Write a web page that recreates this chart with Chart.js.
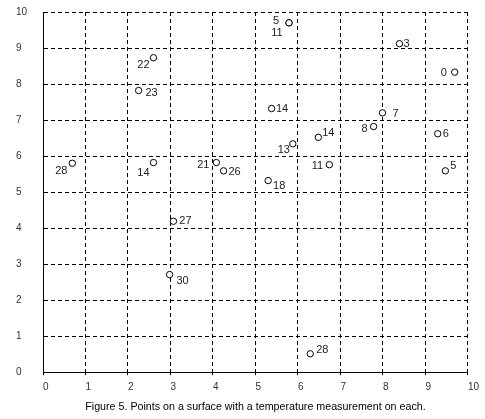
<!DOCTYPE html>
<html>
<head>
<meta charset="utf-8">
<script src="https://cdn.jsdelivr.net/npm/chart.js@4/dist/chart.umd.min.js"></script>
<style>
html,body{margin:0;padding:0;background:#fff;}
#wrap{width:485px;height:419px;position:relative;}
</style>
</head>
<body>
<div id="wrap"><canvas id="c" width="485" height="419"></canvas></div>
<script>
// Point locations on the surface and the temperature measured at each
const xValues = [2.60, 2.25, 0.69, 2.60, 4.08, 4.25, 5.79, 5.79, 8.39, 9.69, 5.38, 7.99, 7.78, 9.29, 6.48, 5.88, 6.74, 9.47, 5.30, 3.07, 2.98, 6.29];
const yValues = [8.73, 7.82, 5.80, 5.82, 5.82, 5.59, 9.70, 9.70, 9.12, 8.33, 7.32, 7.20, 6.82, 6.62, 6.52, 6.34, 5.76, 5.59, 5.32, 4.19, 2.71, 0.51];
const temperatures = [22, 23, 28, 14, 21, 26, 5, 11, 3, 0, 14, 7, 8, 6, 14, 13, 11, 5, 18, 27, 30, 28];
const axisTicks = [0, 1, 2, 3, 4, 5, 6, 7, 8, 9, 10];
const caption = 'Figure 5. Points on a surface with a temperature measurement on each.';

// label placement (pixel offsets from the marker) – style only
const labelOffsets = [[-10,7],[13,2],[-11,8],[-10,10],[-13,2],[11,1],[-13,-2],[-12,10],[7,0],[-11,1],[10.5,0],[13,1],[-9,2],[8,0],[10,-4],[-9,6],[-12,1],[8,-5],[11,5],[12,0],[13,6],[12,-4]];

const points = xValues.map((x, i) => ({x: x, y: yValues[i]}));

const labelPlugin = {
  id: 'tempLabels',
  afterDatasetsDraw(chart) {
    const ctx = chart.ctx;
    const meta = chart.getDatasetMeta(0);
    ctx.save();
    ctx.font = '11px Arial, "Liberation Sans", sans-serif';
    ctx.fillStyle = '#222';
    ctx.textAlign = 'center';
    ctx.textBaseline = 'middle';
    meta.data.forEach((el, i) => {
      const off = labelOffsets[i] || [10, 0];
      ctx.fillText(String(temperatures[i]), el.x + off[0], el.y + off[1]);
    });
    ctx.restore();
  }
};

const bgPlugin = {
  id: 'bg',
  beforeDraw(chart) {
    const c = chart.ctx;
    c.save();
    c.fillStyle = '#fff';
    c.fillRect(0, 0, chart.width, chart.height);
    c.restore();
  }
};

const gridOpts = {
  color: '#000',
  lineWidth: 1,
  drawTicks: true,
  tickLength: 3
};
const borderOpts = { display: true, color: '#000', width: 1, dash: [4, 3] };

new Chart(document.getElementById('c'), {
  type: 'scatter',
  data: {
    datasets: [{
      data: points,
      pointStyle: 'circle',
      pointRadius: 3.2,
      pointHoverRadius: 3.2,
      borderWidth: 1,
      borderColor: '#000',
      backgroundColor: '#fff'
    }]
  },
  options: {
    responsive: false,
    animation: false,
    devicePixelRatio: 1,
    layout: { padding: { left: 16, right: 12.5, top: 12, bottom: 0 } },
    plugins: {
      legend: { display: false },
      tooltip: { enabled: false },
      title: {
        display: true,
        position: 'bottom',
        fullSize: false,
        text: caption,
        color: '#000',
        font: { family: 'Arial, "Liberation Sans", sans-serif', size: 10.7, weight: 'normal', lineHeight: 1.2 },
        padding: { top: 7, bottom: 6 }
      }
    },
    scales: {
      x: {
        type: 'linear',
        min: 0, max: 10,
        afterBuildTicks(scale) { scale.ticks = axisTicks.map(v => ({value: v})); },
        afterFit(scale) { scale.height = 21; },
        grid: gridOpts,
        border: borderOpts,
        ticks: {
          align: 'start',
          padding: 6,
          color: '#333',
          maxRotation: 0,
          autoSkip: false,
          font: { family: 'Arial, "Liberation Sans", sans-serif', size: 10 }
        }
      },
      y: {
        type: 'linear',
        min: 0, max: 10,
        afterBuildTicks(scale) { scale.ticks = axisTicks.map(v => ({value: v})); },
        afterFit(scale) { scale.width = 27; },
        grid: Object.assign({}, gridOpts, { drawTicks: false }),
        border: borderOpts,
        ticks: {
          crossAlign: 'far',
          color: '#333',
          autoSkip: false,
          font: { family: 'Arial, "Liberation Sans", sans-serif', size: 10 }
        }
      }
    }
  }
  ,
  plugins: [bgPlugin, labelPlugin]
});
</script>
</body>
</html>
